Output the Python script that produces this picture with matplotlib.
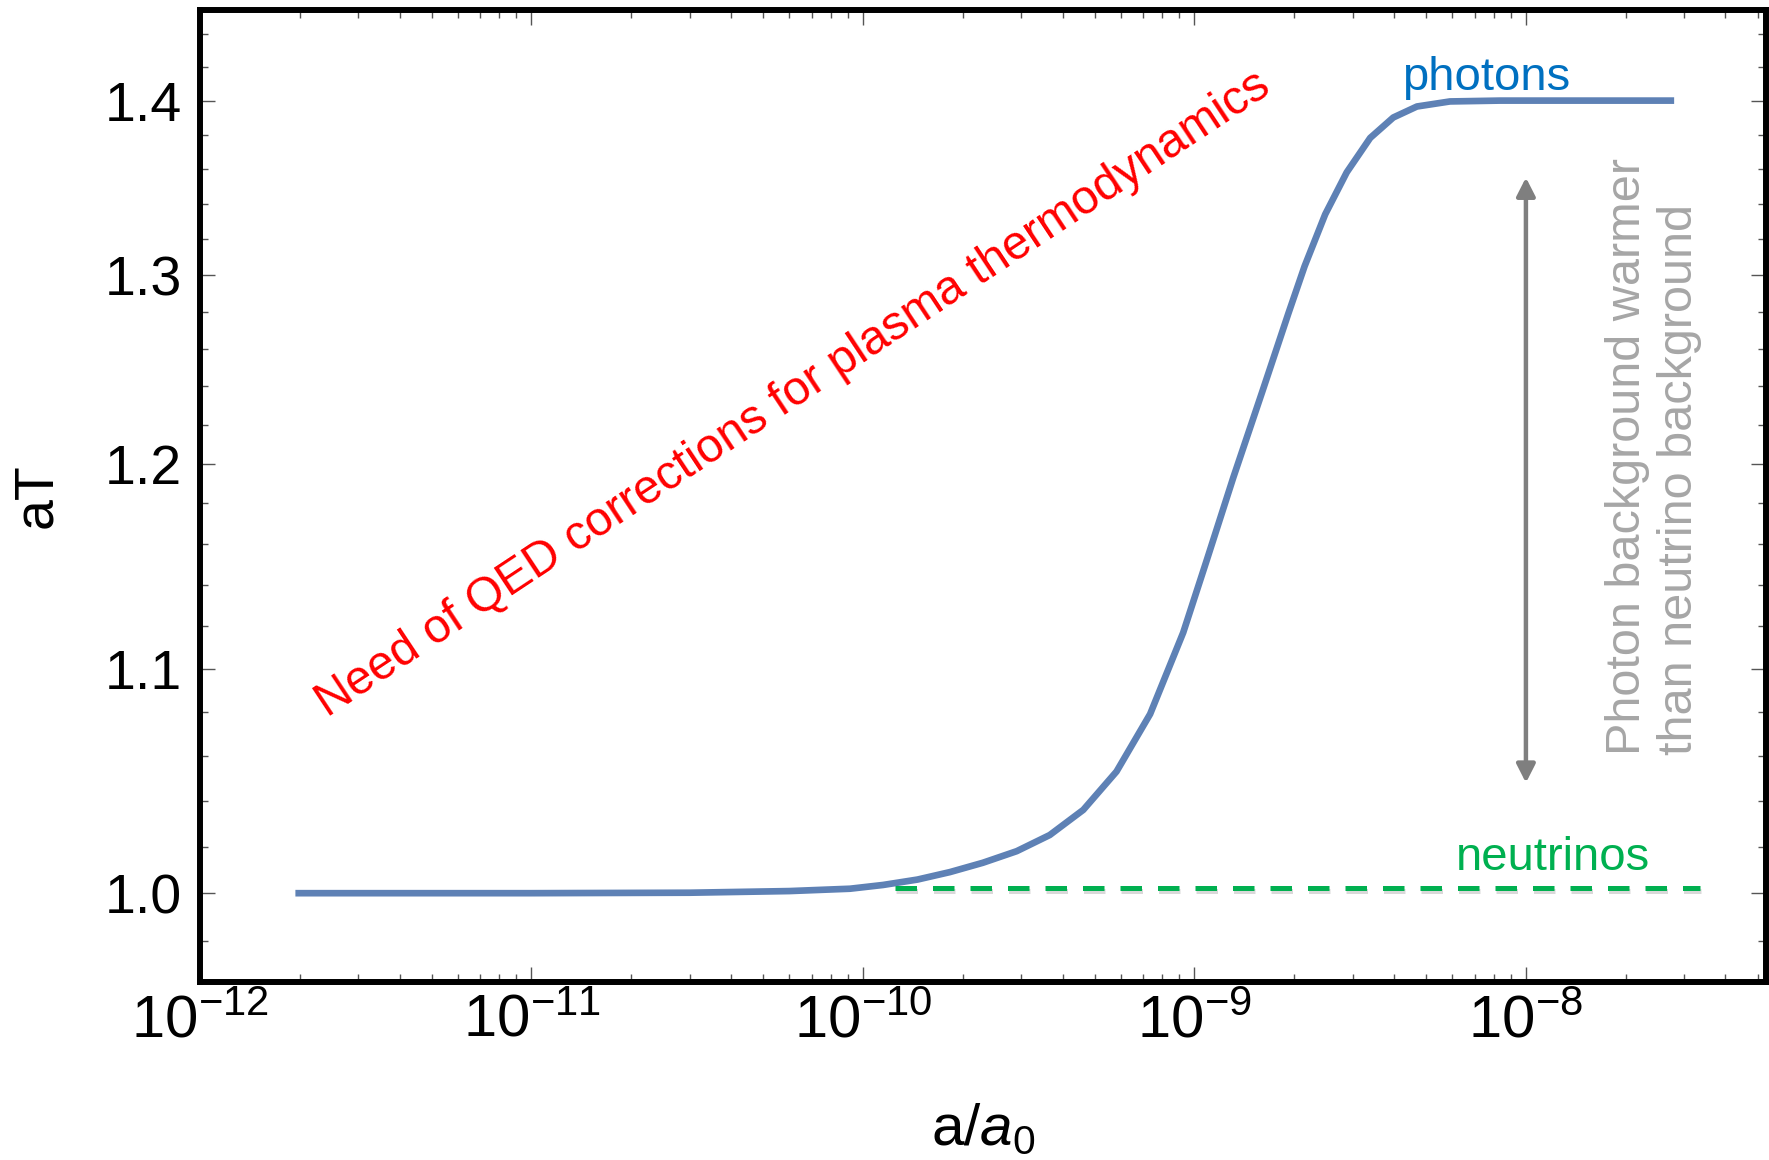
"""
Photon and neutrino comoving temperature aT versus scale factor a/a0.
"""

import matplotlib

matplotlib.use("Agg")
import matplotlib.patheffects as pe
import matplotlib.pyplot as plt
from matplotlib.ticker import FixedFormatter, FixedLocator, LogFormatterSciNotation, NullFormatter

# photon background: aT rises from 1 to 1.4 during e+e- annihilation
photon_a = [
    1.94e-12, 1.0e-11, 3.0e-11, 6.0e-11, 9.14e-11, 1.15e-10, 1.46e-10,
    1.83e-10, 2.30e-10, 2.91e-10, 3.66e-10, 4.62e-10, 5.82e-10, 7.35e-10,
    9.25e-10, 1.09e-9, 1.31e-9, 1.60e-9, 1.92e-9, 2.15e-9, 2.48e-9,
    2.88e-9, 3.39e-9, 3.98e-9, 4.69e-9, 5.90e-9, 8.34e-9, 2.80e-8,
]
photon_aT = [
    1.000, 1.000, 1.0002, 1.0009, 1.0019, 1.0035, 1.0058,
    1.0090, 1.0130, 1.0180, 1.0250, 1.0360, 1.0530, 1.0790,
    1.1170, 1.1520, 1.1930, 1.2370, 1.2790, 1.3050, 1.3340,
    1.3580, 1.3780, 1.3900, 1.3965, 1.3995, 1.400, 1.400,
]

# neutrino background stays at aT = 1
neutrino_a = [1.25e-10, 3.35e-8]
neutrino_aT = [1.002, 1.002]

# gap between the two backgrounds, marked at a/a0 = 1e-8
gap_a = 1e-8
gap_low = 1.048
gap_high = 1.355

xtick_values = [1e-12, 1e-11, 1e-10, 1e-9, 1e-8]
ytick_values = [1.0, 1.1, 1.2, 1.3, 1.4]
ytick_labels = ["1.0", "1.1", "1.2", "1.3", "1.4"]

FONT = "Liberation Sans"


def style_axes(ax):
    """Frame, log scales and ticks."""
    ax.set_xscale("log")
    ax.set_yscale("log")
    ax.set_xlim(1e-12, 5.3e-8)
    ax.set_ylim(0.963, 1.4549)

    minor_x = [m * 10.0**e for e in range(-12, -7) for m in range(2, 10)]
    minor_x = [v for v in minor_x if v < 5.3e-8]
    ax.xaxis.set_major_locator(FixedLocator(xtick_values))
    ax.xaxis.set_major_formatter(LogFormatterSciNotation())
    ax.xaxis.set_minor_locator(FixedLocator(minor_x))
    ax.xaxis.set_minor_formatter(NullFormatter())

    minor_y = [round(0.98 + 0.02 * i, 2) for i in range(24)]
    minor_y = [v for v in minor_y if v not in ytick_values]
    ax.yaxis.set_major_locator(FixedLocator(ytick_values))
    ax.yaxis.set_major_formatter(FixedFormatter(ytick_labels))
    ax.yaxis.set_minor_locator(FixedLocator(minor_y))
    ax.yaxis.set_minor_formatter(NullFormatter())

    ax.tick_params(which="both", direction="in", top=True, right=True,
                   color="#555555", width=1.0)
    ax.tick_params(which="major", length=11)
    ax.tick_params(which="minor", length=5.5)
    ax.tick_params(axis="y", labelsize=40, pad=13)
    ax.tick_params(axis="x", labelsize=43, pad=9)

    for spine in ax.spines.values():
        spine.set_linewidth(4.3)
        spine.set_color("black")


def main():
    plt.rcParams["font.family"] = FONT
    plt.rcParams["mathtext.fontset"] = "custom"
    plt.rcParams["mathtext.rm"] = FONT
    plt.rcParams["mathtext.it"] = FONT + ":italic"
    plt.rcParams["mathtext.bf"] = FONT + ":bold"

    fig = plt.figure(figsize=(17.69, 11.60), dpi=100)
    ax = fig.add_axes([200 / 1769, 178 / 1160, 1566 / 1769, 972 / 1160])
    style_axes(ax)

    # curves
    ax.plot(photon_a, photon_aT, color="#5E81B5", lw=4.8, solid_capstyle="butt",
            solid_joinstyle="round", zorder=3)
    ax.plot(
        neutrino_a, neutrino_aT, color="#00B050", lw=3.6, linestyle=(0, (4.3, 3.2)),
        dash_capstyle="butt", zorder=3,
        path_effects=[pe.SimpleLineShadow(offset=(0.8, -1.6), shadow_color="k", alpha=0.15),
                      pe.Normal()],
    )

    # double arrow for the temperature gap
    ax.annotate(
        "", xy=(gap_a, gap_high), xytext=(gap_a, gap_low),
        arrowprops=dict(
            arrowstyle="<|-|>,head_length=0.55,head_width=0.28",
            mutation_scale=20, color="#7F7F7F", lw=3.2, shrinkA=0, shrinkB=0,
            path_effects=[pe.SimplePatchShadow(offset=(1, -1.5), alpha=0.15), pe.Normal()],
        ),
        zorder=4,
    )

    # labels
    ax.text(7.57e-9, 1.4064, "photons", color="#0070C0", fontsize=34,
            ha="center", va="baseline")
    ax.text(1.21e-8, 1.0101, "neutrinos", color="#00B050", fontsize=34,
            ha="center", va="baseline")
    ax.text(6.45e-11, 1.2304, "Need of QED corrections for plasma thermodynamics",
            color="#FF0000", fontsize=34.5, rotation=33.5, rotation_mode="anchor",
            ha="center", va="baseline")
    ax.text(2.43e-8, 1.0606, "Photon background warmer\nthan neutrino background",
            color="#A6A6A6", fontsize=35, rotation=90, ha="center", va="bottom",
            multialignment="left", linespacing=1.2)

    ax.set_xlabel(r"a/$a_0$", fontsize=42, va="baseline")
    ax.xaxis.set_label_coords(0.5, -0.168)
    ax.set_ylabel("aT", fontsize=40, va="center")
    ax.yaxis.set_label_coords(-0.104, 0.5)

    fig.savefig("out.png", dpi=100)
    print("[PLOT] Saved to out.png")


if __name__ == "__main__":
    main()
